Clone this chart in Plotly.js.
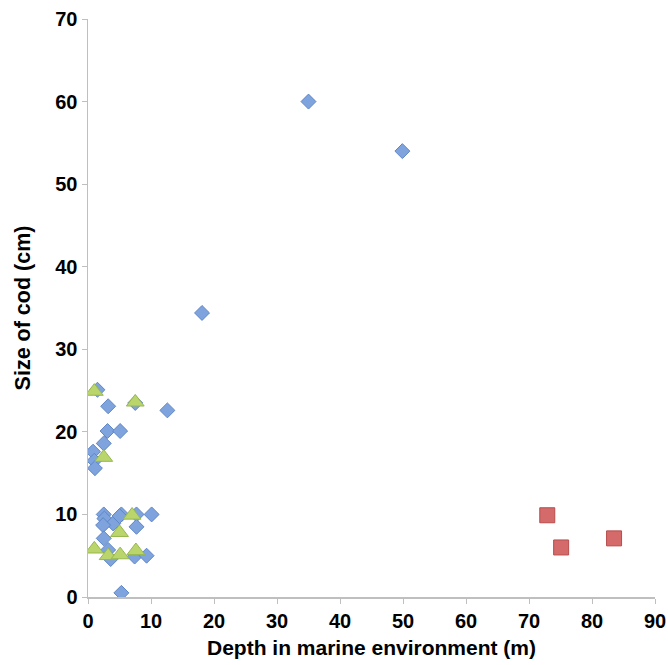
<!DOCTYPE html>
<html><head><meta charset="utf-8">
<script src="https://cdn.plot.ly/plotly-3.0.1.min.js"></script>
<style>html,body{margin:0;padding:0;background:#fff}#c{width:668px;height:665px}</style>
</head><body><div id="c"></div>
<script>
const blueX = [1.5, 3.2, 7.5, 12.6, 3.1, 5.1, 2.5, 0.8, 1.0, 1.1, 2.5, 2.6, 4.0, 5.3, 5.0, 7.7, 7.7, 10.1, 2.4, 2.5, 3.2, 7.4, 9.3, 3.6, 5.3, 18.1, 35.0, 49.9];
const blueY = [25.1, 23.1, 23.5, 22.6, 20.1, 20.1, 18.6, 17.6, 16.5, 15.6, 10.0, 9.5, 8.9, 10.0, 9.8, 10.0, 8.5, 10.0, 8.7, 7.1, 5.7, 4.9, 5.0, 4.6, 0.5, 34.4, 60.0, 54.0];
const greenX = [1.0, 7.5, 2.5, 7.0, 5.0, 1.0, 3.2, 5.1, 7.6];
const greenY = [24.9, 23.6, 16.9, 9.9, 7.8, 5.8, 5.0, 5.1, 5.6];
const redX = [72.9, 75.1, 83.5];
const redY = [9.9, 6.0, 7.1];
const xTicks = [0,10,20,30,40,50,60,70,80,90];
const yTicks = [0,10,20,30,40,50,60,70];

const traces = [
  {x: blueX, y: blueY, type:'scatter', mode:'markers', name:'A',
   marker:{symbol:'diamond', size:11.5, color:'#7EA3DD', line:{color:'#5F86C6', width:1}}},
  {x: greenX, y: greenY, type:'scatter', mode:'markers', name:'B',
   marker:{symbol:'triangle-up', size:15.5, color:'#B9D56B', line:{color:'#97B84E', width:1}}},
  {x: redX, y: redY, type:'scatter', mode:'markers', name:'C',
   marker:{symbol:'square', size:15, color:'#D46A6A', line:{color:'#B84D4D', width:1}}}
];
const fam = 'Liberation Sans, Arial, Helvetica, sans-serif';
const tickFont = {family:fam, size:20, color:'#000', weight:'bold'};
const xTitleFont = {family:fam, size:21, color:'#000', weight:'bold'};
const yTitleFont = {family:fam, size:21.5, color:'#000', weight:'bold'};
const layout = {
  width:668, height:665,
  margin:{l:88, r:13, t:19, b:68},
  showlegend:false,
  paper_bgcolor:'#fff', plot_bgcolor:'#fff',
  font:{family:fam, color:'#000'},
  xaxis:{range:[0,90], tickvals:xTicks, ticktext:xTicks.map(String), showgrid:false, zeroline:false,
    showline:true, linecolor:'#BFBFBF', linewidth:1.5, ticks:'outside', ticklen:5, tickcolor:'#BFBFBF',
    tickfont:tickFont, title:{text:'Depth in marine environment (m)', font:xTitleFont, standoff:10}},
  yaxis:{range:[0,70], tickvals:yTicks, ticktext:yTicks.map(String), showgrid:false, zeroline:false,
    showline:true, linecolor:'#BFBFBF', linewidth:1.5, ticks:'outside', ticklen:5, tickcolor:'#BFBFBF',
    tickfont:tickFont, title:{text:'Size of cod (cm)', font:yTitleFont, standoff:18}}
};
Plotly.newPlot('c', traces, layout, {displayModeBar:false, staticPlot:true});
</script></body></html>
